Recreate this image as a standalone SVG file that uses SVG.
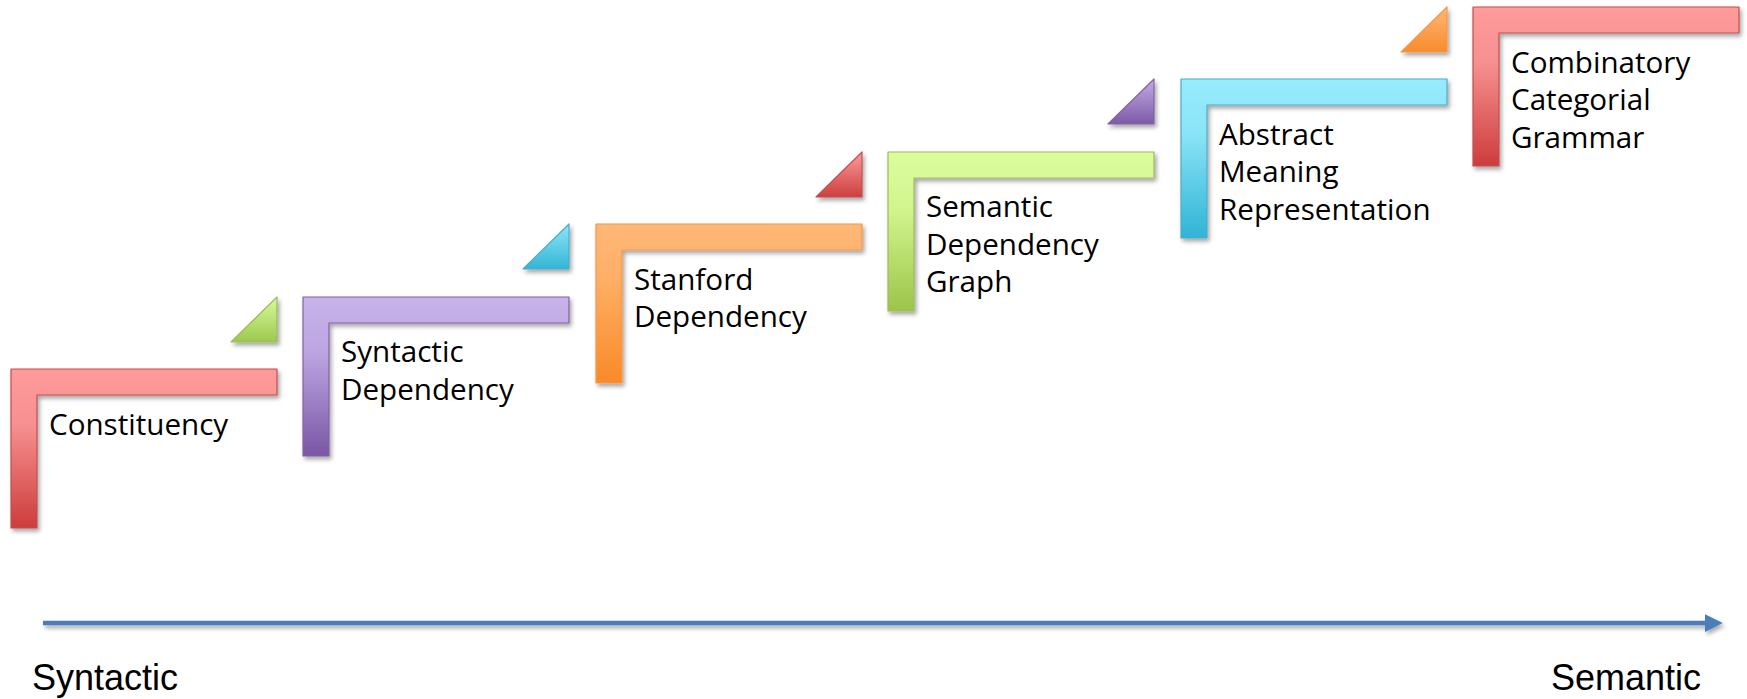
<svg xmlns="http://www.w3.org/2000/svg" width="1747" height="699" viewBox="0 0 1747 699">
<style>
.lbl{font-family:"Open Sans","Liberation Sans",sans-serif;font-size:29.6px;fill:#000}
.axis{font-family:"Liberation Sans",Arial,sans-serif;font-size:36px;fill:#000}
.step{filter:url(#sh);stroke-width:1.2;stroke-linejoin:round}
</style>
<defs>
<filter id="sh" x="-10%" y="-10%" width="130%" height="130%">
<feDropShadow dx="2" dy="3" stdDeviation="2" flood-color="#000" flood-opacity="0.35"/>
</filter>
<filter id="shl" filterUnits="userSpaceOnUse" x="0" y="600" width="1747" height="50">
<feDropShadow dx="2" dy="3" stdDeviation="2" flood-color="#000" flood-opacity="0.35"/>
</filter>
<linearGradient id="gRed" x1="0" y1="0" x2="0" y2="1"><stop offset="0" stop-color="#ff9b9b"/><stop offset="0.35" stop-color="#f79090"/><stop offset="1" stop-color="#cd3c3c"/></linearGradient>
<linearGradient id="gPur" x1="0" y1="0" x2="0" y2="1"><stop offset="0" stop-color="#c8b3ea"/><stop offset="0.35" stop-color="#bca5e2"/><stop offset="1" stop-color="#7a56a5"/></linearGradient>
<linearGradient id="gOra" x1="0" y1="0" x2="0" y2="1"><stop offset="0" stop-color="#ffb877"/><stop offset="0.35" stop-color="#ffae66"/><stop offset="1" stop-color="#f88a28"/></linearGradient>
<linearGradient id="gGrn" x1="0" y1="0" x2="0" y2="1"><stop offset="0" stop-color="#dcfd9e"/><stop offset="0.35" stop-color="#d3f58f"/><stop offset="1" stop-color="#9cc54a"/></linearGradient>
<linearGradient id="gCyn" x1="0" y1="0" x2="0" y2="1"><stop offset="0" stop-color="#97ecfd"/><stop offset="0.35" stop-color="#8ae3f7"/><stop offset="1" stop-color="#2fb4d5"/></linearGradient>
<linearGradient id="tGrn" x1="0" y1="0" x2="0" y2="1"><stop offset="0" stop-color="#d8fb9c"/><stop offset="1" stop-color="#9cc84e"/></linearGradient>
<linearGradient id="tCyn" x1="0" y1="0" x2="0" y2="1"><stop offset="0" stop-color="#8fe6fa"/><stop offset="1" stop-color="#33b5d6"/></linearGradient>
<linearGradient id="tRed" x1="0" y1="0" x2="0" y2="1"><stop offset="0" stop-color="#fd9c9c"/><stop offset="1" stop-color="#cd3f3f"/></linearGradient>
<linearGradient id="tPur" x1="0" y1="0" x2="0" y2="1"><stop offset="0" stop-color="#c3ace6"/><stop offset="1" stop-color="#7d5aa8"/></linearGradient>
<linearGradient id="tOra" x1="0" y1="0" x2="0" y2="1"><stop offset="0" stop-color="#ffb877"/><stop offset="1" stop-color="#f78c2c"/></linearGradient>
<marker id="ah" markerUnits="userSpaceOnUse" markerWidth="18" markerHeight="18" viewBox="0 0 16 16" refX="2" refY="8" orient="auto">
<path d="M0,0 L16,8 L0,16 Z" fill="#4a7ebb"/>
</marker>
</defs>
<rect width="1747" height="699" fill="#fff"/>

<g id="constituency">
<path class="step" d="M11,369 H277 V395 H37 V528 H11 Z" fill="url(#gRed)" stroke="#c0504d"/>
<text class="lbl" x="49" y="435">Constituency</text>
</g>

<g id="syntactic-dependency">
<path class="step" d="M231,342 L277,297 V342 Z" fill="url(#tGrn)" stroke="#9bbb59"/>
<path class="step" d="M303,297 H569 V323 H329 V456 H303 Z" fill="url(#gPur)" stroke="#8064a2"/>
<text class="lbl" x="341" y="362">Syntactic</text>
<text class="lbl" x="341" y="400">Dependency</text>
</g>

<g id="stanford-dependency">
<path class="step" d="M523,269 L569,224 V269 Z" fill="url(#tCyn)" stroke="#4bacc6"/>
<path class="step" d="M596,224 H862 V250 H622 V383 H596 Z" fill="url(#gOra)" stroke="#f79646"/>
<text class="lbl" x="634" y="290">Stanford</text>
<text class="lbl" x="634" y="327">Dependency</text>
</g>

<g id="semantic-dependency-graph">
<path class="step" d="M816,197 L862,152 V197 Z" fill="url(#tRed)" stroke="#c0504d"/>
<path class="step" d="M888,152 H1154 V178 H914 V311 H888 Z" fill="url(#gGrn)" stroke="#9bbb59"/>
<text class="lbl" x="926" y="217">Semantic</text>
<text class="lbl" x="926" y="255">Dependency</text>
<text class="lbl" x="926" y="292">Graph</text>
</g>

<g id="abstract-meaning-representation">
<path class="step" d="M1108,124 L1154,79 V124 Z" fill="url(#tPur)" stroke="#8064a2"/>
<path class="step" d="M1181,79 H1447 V105 H1207 V238 H1181 Z" fill="url(#gCyn)" stroke="#4bacc6"/>
<text class="lbl" x="1219" y="145">Abstract</text>
<text class="lbl" x="1219" y="182">Meaning</text>
<text class="lbl" x="1219" y="220">Representation</text>
</g>

<g id="combinatory-categorial-grammar">
<path class="step" d="M1401,52 L1447,7 V52 Z" fill="url(#tOra)" stroke="#f79646"/>
<path class="step" d="M1473,7 H1739 V33 H1499 V166 H1473 Z" fill="url(#gRed)" stroke="#c0504d"/>
<text class="lbl" x="1511" y="73">Combinatory</text>
<text class="lbl" x="1511" y="110">Categorial</text>
<text class="lbl" x="1511" y="148">Grammar</text>
</g>

<g id="connectors">
<line x1="43" y1="623" x2="1707" y2="623" stroke="#4a7ebb" stroke-width="4.5" marker-end="url(#ah)" filter="url(#shl)"/>
</g>

<g id="axis-labels">
<text class="axis" x="32" y="690">Syntactic</text>
<text class="axis" x="1701" y="690" text-anchor="end">Semantic</text>
</g>
</svg>
